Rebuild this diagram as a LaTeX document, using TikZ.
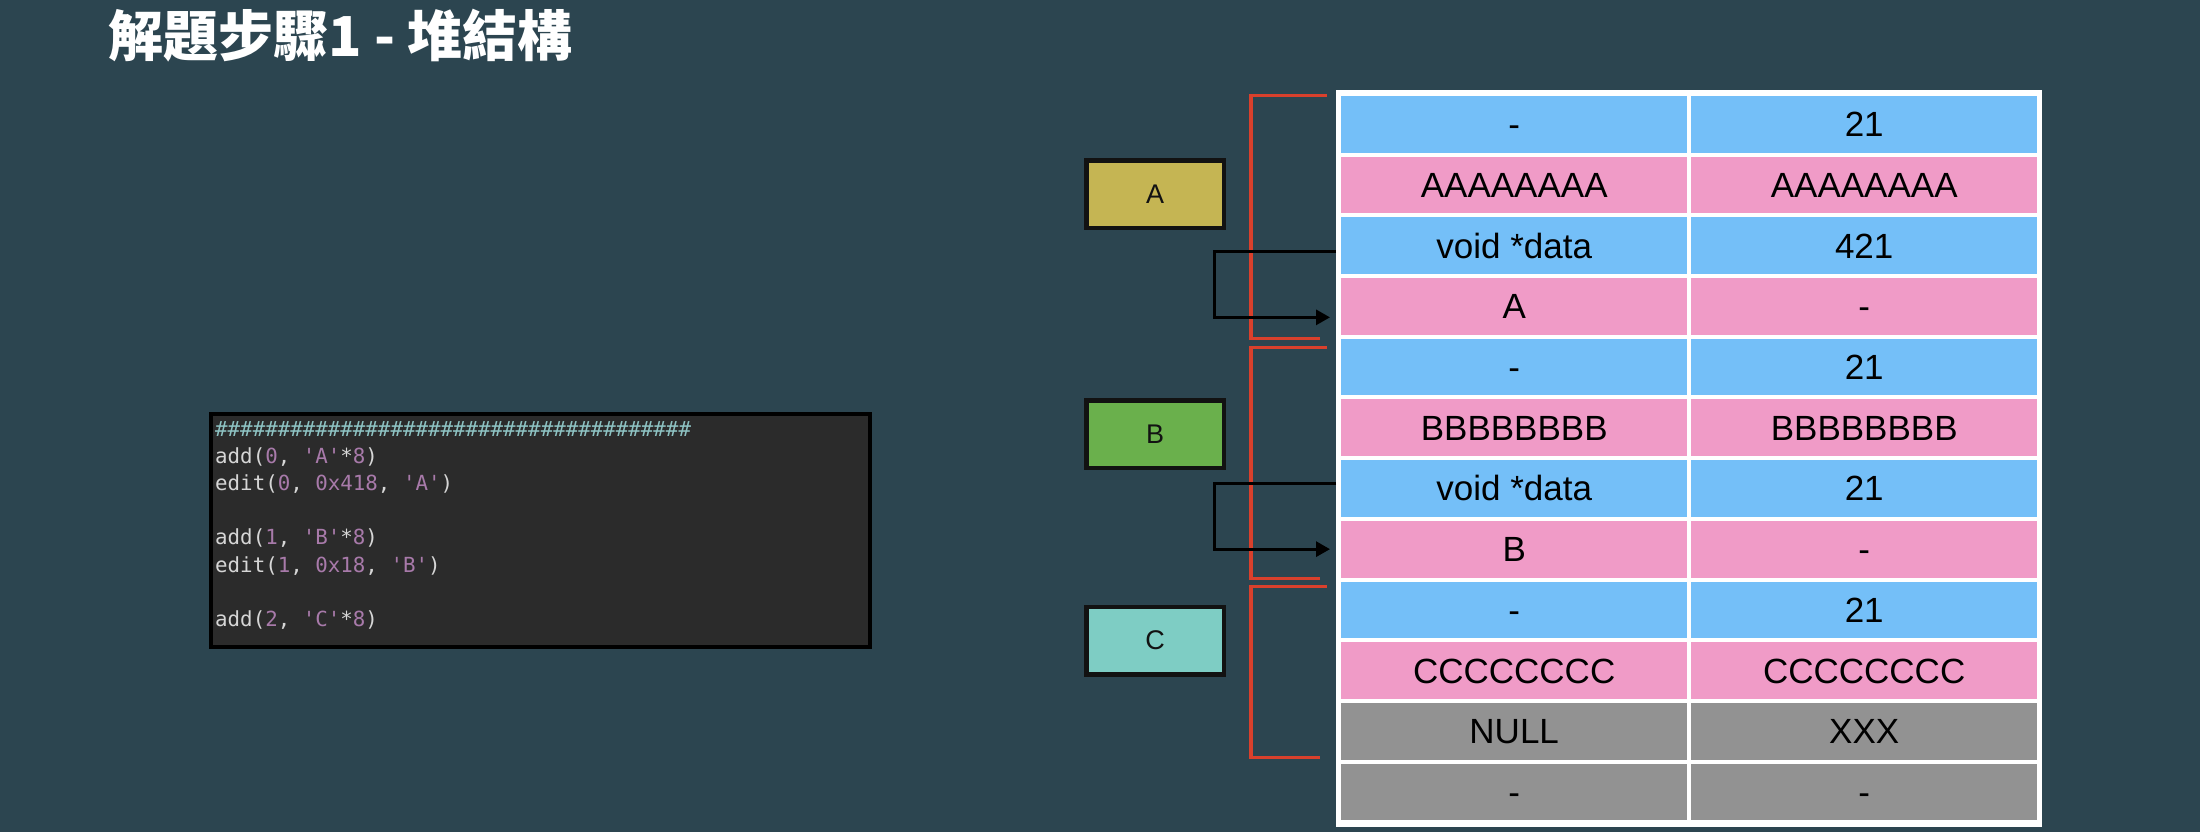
\documentclass[tikz,border=0pt]{standalone}
\usepackage{fontspec}
\setmainfont{Liberation Sans}
\newfontfamily\cjk{Noto Sans CJK TC}
\newfontfamily\codefont{DejaVu Sans Mono}
\usetikzlibrary{arrows.meta}
\definecolor{bg}{HTML}{2C4550}
\definecolor{codebg}{HTML}{2B2B2B}
\definecolor{codetxt}{HTML}{D6D6D6}
\definecolor{codepur}{HTML}{A87AAA}
\definecolor{codehash}{HTML}{8EC3C3}
\definecolor{boxA}{HTML}{C5B553}
\definecolor{boxB}{HTML}{6AB04C}
\definecolor{boxC}{HTML}{7ECDC4}
\definecolor{cblue}{HTML}{74BFF8}
\definecolor{cpink}{HTML}{F09BC7}
\definecolor{cgray}{HTML}{929292}
\definecolor{bracketred}{HTML}{D9402C}
\newcommand{\qq}{\textquotesingle}
\newcommand{\pur}[1]{\textcolor{codepur}{#1}}
\begin{document}
\begin{tikzpicture}[x=1pt,y=-1pt,
  codebox/.style={draw=black, line width=4pt, fill=codebg, inner sep=0pt},
  codeline/.style={anchor=base west, inner sep=0pt, text=codetxt, font=\codefont\fontsize{20.8}{27}\selectfont},
  chunkbox/.style={draw=black!93, line width=4.5pt, minimum width=137.5pt, minimum height=67.5pt, inner sep=0pt, font=\fontsize{27}{32}\selectfont, text=black!93},
  cell/.style={anchor=north west, minimum width=346pt, minimum height=56.7pt, inner sep=0pt, text=black, text height=25pt, text depth=0pt, font=\fontsize{35}{42}\selectfont},
  bluecell/.style={cell, fill=cblue},
  pinkcell/.style={cell, fill=cpink},
  graycell/.style={cell, fill=cgray},
  bracket/.style={draw=bracketred, line width=3.2pt, line cap=rect},
  ptr/.style={draw=black, line width=3pt, -{Triangle[length=14pt,width=15pt]}}
]
\useasboundingbox (0,0) rectangle (2200,832);
\fill[bg] (0,0) rectangle (2200,832);

% title
\node[anchor=west, inner sep=0pt, text=white, font=\cjk\bfseries\fontsize{55}{62}\selectfont] (title) at (108,36) {解題步驟1 - 堆結構};

% code box
\node[codebox, minimum width=659.5pt, minimum height=233pt, anchor=north west] (code) at (208.5,412) {};
\node[codeline] (l0) at (215,436.0) {\textcolor{codehash}{\#\#\#\#\#\#\#\#\#\#\#\#\#\#\#\#\#\#\#\#\#\#\#\#\#\#\#\#\#\#\#\#\#\#\#\#\#\#}};
\node[codeline] (l1) at (215,463.2) {add(\pur{0}, \pur{\qq A\qq}*\pur{8})};
\node[codeline] (l2) at (215,490.4) {edit(\pur{0}, \pur{0x418}, \pur{\qq A\qq})};
\node[codeline] (l4) at (215,544.8) {add(\pur{1}, \pur{\qq B\qq}*\pur{8})};
\node[codeline] (l5) at (215,572.0) {edit(\pur{1}, \pur{0x18}, \pur{\qq B\qq})};
\node[codeline] (l7) at (215,626.4) {add(\pur{2}, \pur{\qq C\qq}*\pur{8})};

% chunk labels
\node[chunkbox, fill=boxA] (A) at (1155,194) {A};
\node[chunkbox, fill=boxB] (B) at (1155,434) {B};
\node[chunkbox, fill=boxC] (C) at (1155,640.5) {C};

% table frame
\fill[white] (1336,90) rectangle (2042,827);

% cells
\foreach \r/\sty/\ta/\tb in {1/bluecell/-/21, 2/pinkcell/AAAAAAAA/AAAAAAAA, 3/bluecell/void *data/421, 4/pinkcell/A/-, 5/bluecell/-/21, 6/pinkcell/BBBBBBBB/BBBBBBBB, 7/bluecell/void *data/21, 8/pinkcell/B/-, 9/bluecell/-/21, 10/pinkcell/CCCCCCCC/CCCCCCCC, 11/graycell/NULL/XXX, 12/graycell/-/-}{
  \node[\sty] (r\r a) at (1341,{95.7+(\r-1)*60.7}) {\ta};
  \node[\sty] (r\r b) at (1691,{95.7+(\r-1)*60.7}) {\tb};
}

% brackets
\draw[bracket] (1325,95.3) -- (1251,95.3) -- (1251,338.3) -- (1318,338.3);
\draw[bracket] (1325,347.3) -- (1251,347.3) -- (1251,578.3) -- (1318,578.3);
\draw[bracket] (1325,586.5) -- (1251,586.5) -- (1251,757.7) -- (1318,757.7);

% pointers
\draw[ptr] ([xshift=-5pt,yshift=-6pt]r3a.west) -- ++(-122,0) |- ([xshift=-11pt,yshift=-11pt]r4a.west);
\draw[ptr] ([xshift=-5pt,yshift=5pt]r7a.west) -- ++(-122,0) |- ([xshift=-11pt]r8a.west);
\end{tikzpicture}
\end{document}
